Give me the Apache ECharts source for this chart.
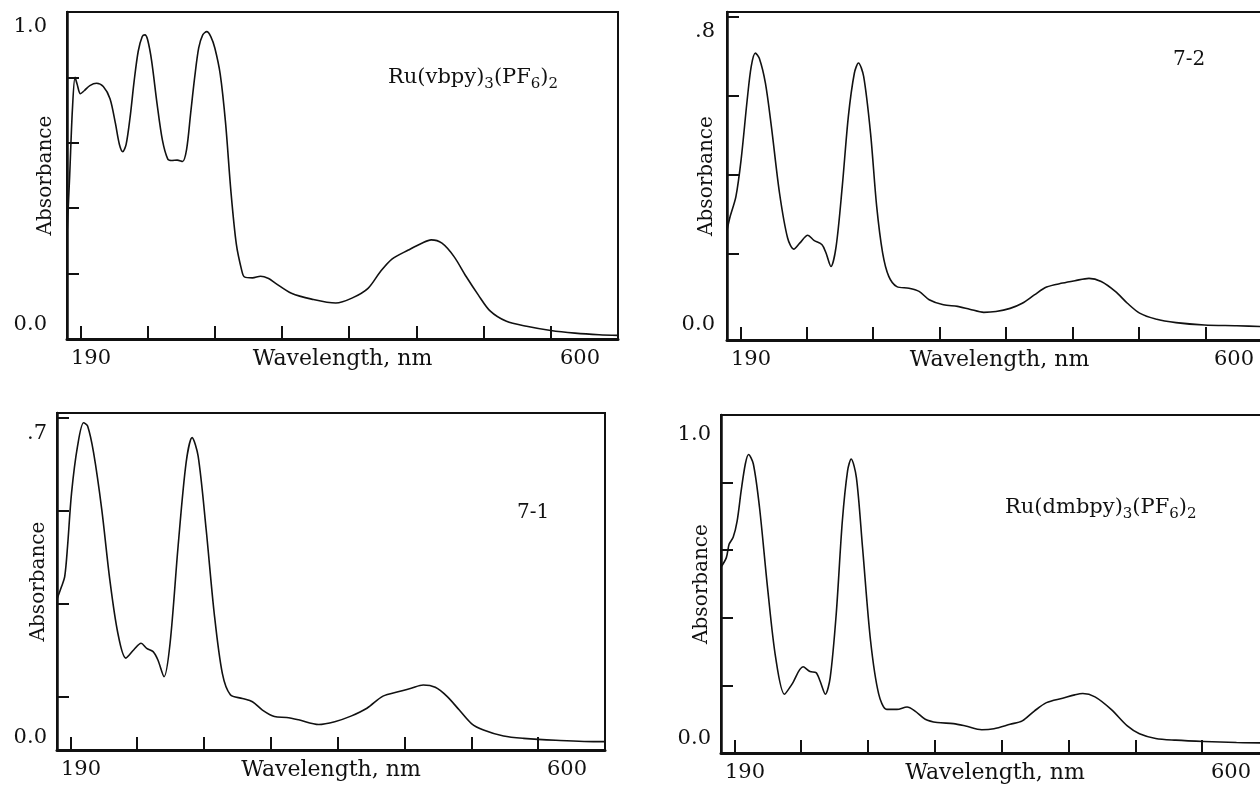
<!DOCTYPE html>
<html>
<head>
<meta charset="utf-8">
<script src="https://cdn.jsdelivr.net/npm/echarts@6/dist/echarts.min.js"></script>
<style>
    html, body { margin: 0; padding: 0; background: #fff; }
    #main { width: 1260px; height: 787px; }
</style>
</head>
<body>
<div id="main"></div>
<script>
// spectra: wavelength (nm) and absorbance
var wl1 = [190, 192, 194, 196, 197.5, 200, 203, 207, 212, 217, 222, 226, 229, 231.5, 234, 237, 240, 243, 246, 248, 250, 253, 257, 261, 265, 268, 272, 276, 279, 282, 285, 288, 291, 294, 297, 300, 304, 308, 312, 316, 320, 322, 328, 334, 340, 345, 357, 372, 390, 402, 414, 423, 432, 444, 454, 461, 469, 478, 487, 496, 505, 517, 532, 550, 568, 586, 600];
var abs1 = [0.32, 0.50, 0.70, 0.80, 0.78, 0.75, 0.76, 0.775, 0.782, 0.772, 0.735, 0.66, 0.595, 0.573, 0.595, 0.68, 0.79, 0.88, 0.925, 0.93, 0.915, 0.85, 0.72, 0.608, 0.55, 0.546, 0.547, 0.543, 0.58, 0.69, 0.80, 0.89, 0.93, 0.94, 0.925, 0.89, 0.81, 0.66, 0.45, 0.29, 0.21, 0.19, 0.187, 0.192, 0.185, 0.171, 0.14, 0.122, 0.11, 0.125, 0.155, 0.205, 0.245, 0.272, 0.293, 0.303, 0.293, 0.252, 0.191, 0.135, 0.085, 0.054, 0.039, 0.026, 0.018, 0.013, 0.011];

var wl2 = [190, 192.4, 196.7, 200.6, 205.2, 208.2, 211.3, 214.3, 218.9, 223.4, 229.5, 235.6, 240.2, 244.7, 250.8, 255.4, 261.5, 264.5, 268.2, 272.1, 276.7, 281.3, 285.8, 288.9, 292.8, 298, 302.6, 307.1, 311.7, 317.8, 326.9, 334.5, 342.1, 352.8, 363.4, 372.5, 383.2, 392.3, 403, 412.1, 421.2, 430.4, 442.5, 451.7, 462.3, 471.5, 482.1, 491.2, 500.4, 512.5, 527.8, 549.1, 573.4, 591.7, 600];
var abs2 = [0.26, 0.295, 0.345, 0.438, 0.59, 0.674, 0.708, 0.695, 0.632, 0.522, 0.354, 0.24, 0.212, 0.227, 0.247, 0.234, 0.223, 0.202, 0.168, 0.219, 0.37, 0.548, 0.657, 0.683, 0.649, 0.505, 0.32, 0.202, 0.143, 0.117, 0.113, 0.105, 0.084, 0.071, 0.067, 0.06, 0.052, 0.054, 0.062, 0.075, 0.096, 0.116, 0.126, 0.132, 0.138, 0.13, 0.105, 0.075, 0.05, 0.035, 0.026, 0.02, 0.018, 0.016, 0.015];

var wl3 = [190, 193.4, 195.8, 197.9, 200.9, 205.4, 209.9, 212.9, 217.4, 223.5, 229.5, 235.5, 241.5, 247.5, 252.9, 257.1, 261.9, 265.5, 270.1, 274.6, 280.6, 286.6, 291.1, 295.6, 301.6, 307.6, 313.7, 319.7, 328.7, 336.2, 343.7, 352.7, 361.8, 370.8, 385.8, 397.8, 409.9, 421.9, 433.9, 445.9, 455, 464, 473, 482, 491, 500.1, 509.1, 524.1, 539.1, 563.2, 596.3, 600];
var abs3 = [0.31, 0.337, 0.359, 0.424, 0.539, 0.64, 0.69, 0.683, 0.625, 0.503, 0.352, 0.237, 0.183, 0.201, 0.215, 0.204, 0.197, 0.179, 0.143, 0.215, 0.424, 0.604, 0.658, 0.618, 0.46, 0.28, 0.15, 0.104, 0.096, 0.089, 0.071, 0.057, 0.055, 0.05, 0.04, 0.046, 0.058, 0.075, 0.101, 0.111, 0.118, 0.125, 0.12, 0.1, 0.071, 0.042, 0.028, 0.015, 0.01, 0.006, 0.003, 0.003];

var wl4 = [190, 194, 196.1, 199.1, 202.1, 205.1, 208.2, 210.6, 214.2, 218.8, 224.8, 230.9, 237.5, 243, 251.4, 256.6, 261.1, 264.1, 268.1, 271.7, 276.2, 280.8, 284.7, 287.4, 291.3, 295.9, 301.9, 308, 314, 321.6, 329.2, 335.2, 342.8, 351.8, 363.9, 373, 385.1, 394.2, 406.3, 415.4, 424.4, 433.5, 445.6, 454.7, 460.7, 469.8, 481.9, 494, 503.1, 515.2, 530.3, 551.5, 575.7, 593.8, 600];
var abs4 = [0.55, 0.578, 0.618, 0.638, 0.687, 0.776, 0.855, 0.883, 0.855, 0.727, 0.49, 0.282, 0.174, 0.203, 0.255, 0.241, 0.238, 0.213, 0.174, 0.223, 0.411, 0.687, 0.835, 0.87, 0.815, 0.608, 0.332, 0.174, 0.129, 0.129, 0.136, 0.124, 0.1, 0.09, 0.087, 0.08, 0.069, 0.072, 0.085, 0.095, 0.124, 0.149, 0.162, 0.172, 0.176, 0.166, 0.129, 0.08, 0.057, 0.043, 0.038, 0.034, 0.031, 0.03, 0.03];

// axes
var xTicks = [200, 250, 300, 350, 400, 450, 500, 550];
var xLabels = [190, 600];
var yTicks1 = [0.2, 0.4, 0.6, 0.8];
var yTicks2 = [0.2, 0.4, 0.6, 0.8];
var yTicks3 = [0.1, 0.3, 0.5, 0.7];
var yTicks4 = [0.2, 0.4, 0.6, 0.8];
var yLabels1 = [0, 1.0], yText1 = ['0.0', '1.0'];
var yLabels2 = [0, 0.8], yText2 = ['0.0', '.8'];
var yLabels3 = [0, 0.7], yText3 = ['0.0', '.7'];
var yLabels4 = [0, 1.0], yText4 = ['0.0', '1.0'];

var FONT = 'DejaVu Serif';
var INK = '#111';

function zip(a, b) {
    var out = [];
    for (var i = 0; i < a.length; i++) out.push([a[i], b[i]]);
    return out;
}

var panels = [
    {wl: wl1, ab: abs1, yTicks: yTicks1, yLabels: yLabels1, yText: yText1, min: 0, max: 1.0,
     grid: {left: 67, top: 12, width: 551, height: 327}, offLo: 14, offHi: 15, nameGap: 11, margin: 20},
    {wl: wl2, ab: abs2, yTicks: yTicks2, yLabels: yLabels2, yText: yText2, min: -0.018, max: 0.812,
     grid: {left: 727, top: 12, width: 545, height: 328}, offLo: 8, offHi: 15, nameGap: 10, margin: 12},
    {wl: wl3, ab: abs3, yTicks: yTicks3, yLabels: yLabels3, yText: yText3, min: -0.015, max: 0.711,
     grid: {left: 57, top: 413, width: 548, height: 337}, offLo: 5, offHi: 15, nameGap: 8, margin: 10},
    {wl: wl4, ab: abs4, yTicks: yTicks4, yLabels: yLabels4, yText: yText4, min: 0, max: 1.0,
     grid: {left: 721, top: 415, width: 548, height: 338}, offLo: 14, offHi: 20, nameGap: 9, margin: 10}
];

var grids = [], xAxes = [], yAxes = [], series = [];

panels.forEach(function (p, i) {
    grids.push({
        left: p.grid.left, top: p.grid.top, width: p.grid.width, height: p.grid.height,
        outerBoundsMode: 'none', containLabel: false,
        show: true, borderColor: INK, borderWidth: 2, backgroundColor: 'transparent'
    });
    xAxes.push({
        gridIndex: i, type: 'value', min: 190, max: 600,
        axisLine: {show: true, onZero: false, lineStyle: {color: INK, width: 3}},
        axisTick: {show: true, inside: true, length: 13, customValues: xTicks,
            lineStyle: {color: INK, width: 2}},
        axisLabel: {
            show: true, customValues: xLabels, margin: 9,
            formatter: function (v) { return v === xLabels[0] ? '{lo|' + v + '}' : '{hi|' + v + '}'; },
            rich: {
                lo: {fontFamily: FONT, fontSize: 21, color: INK, padding: [0, 0, 0, 48]},
                hi: {fontFamily: FONT, fontSize: 21, color: INK, padding: [0, 76, 0, 0]}
            }
        },
        splitLine: {show: false},
        name: 'Wavelength, nm', nameLocation: 'middle', nameGap: 9, nameMoveOverlap: false,
        nameTextStyle: {fontFamily: FONT, fontSize: 22, color: INK, verticalAlign: 'top'}
    });
    yAxes.push({
        gridIndex: i, type: 'value', min: p.min, max: p.max,
        axisLine: {show: true, onZero: false, lineStyle: {color: INK, width: 2.5}},
        axisTick: {show: true, inside: true, length: 12, customValues: p.yTicks,
            lineStyle: {color: INK, width: 2}},
        axisLabel: {
            show: true, customValues: p.yLabels, margin: p.margin,
            formatter: function (v) { return v === p.yLabels[0] ? '{lo|' + p.yText[0] + '}' : '{hi|' + p.yText[1] + '}'; },
            rich: {
                lo: {fontFamily: FONT, fontSize: 21, color: INK, padding: [0, 0, 2 * p.offLo, 0]},
                hi: {fontFamily: FONT, fontSize: 21, color: INK, padding: [2 * p.offHi, 0, 0, 0]}
            }
        },
        splitLine: {show: false},
        name: 'Absorbance', nameLocation: 'middle', nameGap: p.nameGap, nameMoveOverlap: false,
        nameTextStyle: {fontFamily: FONT, fontSize: 20, color: INK}
    });
    series.push({
        type: 'line', xAxisIndex: i, yAxisIndex: i, data: zip(p.wl, p.ab),
        showSymbol: false, smooth: 0.3, silent: true,
        lineStyle: {color: INK, width: 1.6}
    });
});

var subRich = {
    n: {fontFamily: FONT, fontSize: 21, fontWeight: 'normal', color: INK, lineHeight: 26},
    s: {fontFamily: FONT, fontSize: 15, fontWeight: 'normal', color: INK, lineHeight: 26, padding: [13, 0, 0, 0]}
};
var plain = {fontFamily: FONT, fontSize: 20, color: INK, fontWeight: 'normal'};

var titles = [
    {text: '{n|Ru(vbpy)}{s|3}{n|(PF}{s|6}{n|)}{s|2}', left: 383, top: 60, textStyle: {fontWeight: 'normal', rich: subRich}},
    {text: '7-2', left: 1168, top: 45, textStyle: plain},
    {text: '7-1', left: 512, top: 498, textStyle: plain},
    {text: '{n|Ru(dmbpy)}{s|3}{n|(PF}{s|6}{n|)}{s|2}', left: 1000, top: 490, textStyle: {fontWeight: 'normal', rich: subRich}}
];

var myChart = echarts.init(document.getElementById('main'));
myChart.setOption({
    backgroundColor: '#fff',
    animation: false,
    title: titles,
    grid: grids,
    xAxis: xAxes,
    yAxis: yAxes,
    series: series
});
</script>
</body>
</html>
